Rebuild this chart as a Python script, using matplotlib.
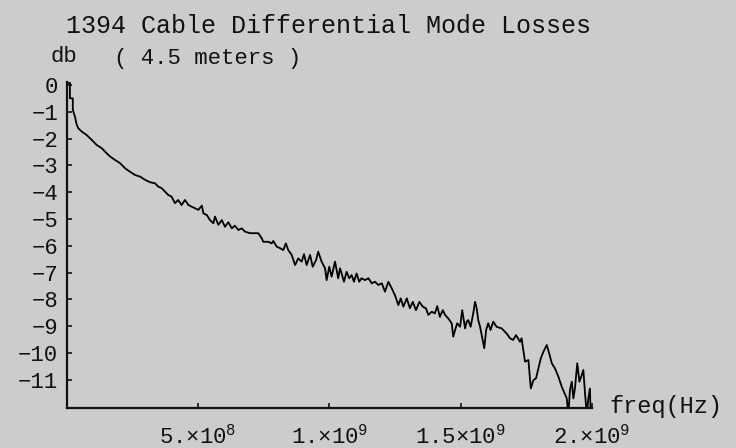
import matplotlib.pyplot as plt
import numpy as np

# Differential mode loss of a 4.5 m 1394 cable
freq_ghz = [
    0.000, 0.000, 0.013, 0.013, 0.024, 0.024, 0.032, 0.039, 0.045, 0.058,
    0.077, 0.096, 0.115, 0.134, 0.153, 0.166, 0.185, 0.204, 0.223, 0.242,
    0.261, 0.280, 0.299, 0.318, 0.337, 0.349, 0.362, 0.375, 0.387, 0.400,
    0.413, 0.425, 0.438, 0.451, 0.464, 0.476, 0.489, 0.502, 0.515, 0.521,
    0.534, 0.546, 0.559, 0.565, 0.578, 0.591, 0.603, 0.616, 0.629, 0.641,
    0.654, 0.667, 0.679, 0.698, 0.717, 0.730, 0.743, 0.749, 0.768, 0.781,
    0.787, 0.800, 0.813, 0.825, 0.835, 0.844, 0.857, 0.870, 0.882, 0.895,
    0.904, 0.914, 0.927, 0.937, 0.950, 0.958, 0.971, 0.984, 0.990, 1.000,
    1.009, 1.022, 1.034, 1.041, 1.047, 1.056, 1.066, 1.076, 1.085, 1.094,
    1.104, 1.114, 1.123, 1.136, 1.149, 1.162, 1.174, 1.187, 1.200, 1.212,
    1.225, 1.238, 1.250, 1.263, 1.272, 1.282, 1.295, 1.307, 1.318, 1.330,
    1.343, 1.356, 1.368, 1.377, 1.390, 1.402, 1.411, 1.421, 1.432, 1.441,
    1.453, 1.466, 1.472, 1.479, 1.487, 1.498, 1.506, 1.517, 1.523, 1.529,
    1.538, 1.548, 1.555, 1.561, 1.567, 1.574, 1.584, 1.590, 1.597, 1.605,
    1.614, 1.624, 1.637, 1.656, 1.675, 1.688, 1.700, 1.711, 1.726, 1.732,
    1.745, 1.758, 1.767, 1.777, 1.787, 1.796, 1.805, 1.815, 1.828, 1.837,
    1.847, 1.859, 1.872, 1.885, 1.893, 1.904, 1.910, 1.916, 1.923, 1.929,
    1.935, 1.944, 1.952, 1.961, 1.967, 1.973, 1.980, 1.986, 1.992, 1.995,
]
loss_db = [
    -0.93, 0.08, 0.08, -0.50, -0.50, -0.93, -1.18, -1.49, -1.62, -1.74,
    -1.87, -2.05, -2.24, -2.36, -2.55, -2.67, -2.80, -2.92, -3.11, -3.24,
    -3.36, -3.42, -3.54, -3.63, -3.67, -3.79, -3.85, -3.98, -4.10, -4.17,
    -4.41, -4.29, -4.48, -4.29, -4.48, -4.54, -4.60, -4.66, -4.50, -4.79,
    -4.85, -5.04, -5.16, -4.91, -5.22, -5.04, -5.29, -5.12, -5.35, -5.25,
    -5.41, -5.35, -5.47, -5.53, -5.53, -5.53, -5.72, -5.85, -5.85, -5.91,
    -5.82, -6.03, -6.09, -6.16, -5.91, -6.16, -6.34, -6.72, -6.47, -6.59,
    -6.31, -6.72, -6.34, -6.78, -6.53, -6.22, -6.59, -6.84, -7.28, -6.78,
    -7.15, -6.59, -7.21, -6.84, -7.03, -7.34, -6.97, -7.21, -7.09, -7.34,
    -7.03, -7.34, -7.21, -7.28, -7.21, -7.40, -7.34, -7.46, -7.40, -7.71,
    -7.34, -7.59, -7.84, -8.21, -7.96, -8.27, -7.96, -8.33, -8.09, -8.40,
    -8.09, -8.27, -8.33, -8.58, -8.46, -8.52, -8.25, -8.65, -8.40, -8.58,
    -8.71, -8.89, -9.39, -9.14, -8.89, -9.02, -8.40, -9.08, -8.83, -8.77,
    -9.02, -8.52, -8.09, -8.33, -8.77, -9.02, -9.51, -9.82, -9.14, -8.89,
    -9.14, -8.83, -9.02, -9.08, -9.27, -9.45, -9.51, -9.33, -9.58, -9.45,
    -10.32, -10.26, -11.32, -11.01, -10.94, -10.57, -10.20, -9.95, -9.70, -10.01,
    -10.38, -10.57, -10.88, -11.26, -11.44, -11.69, -12.30, -11.38, -11.07, -11.69,
    -11.32, -10.38, -11.07, -10.82, -10.63, -11.44, -12.30, -11.69, -11.32, -12.30,
]

ytick_vals = list(range(0, -12, -1))
ytick_labels = ['0'] + ['\u2212%d' % (-v) for v in ytick_vals[1:]]
xtick_vals = [5e8, 1e9, 1.5e9, 2e9]
xtick_labels = ['5.\u00d710$^{8}$', '1.\u00d710$^{9}$', '1.5\u00d710$^{9}$', '2.\u00d710$^{9}$']

bg = '#cccccc'
mono = 'Liberation Mono'
plt.rcParams['font.family'] = [mono, 'DejaVu Sans Mono']
plt.rcParams['mathtext.fontset'] = 'custom'
plt.rcParams['mathtext.rm'] = mono
plt.rcParams['mathtext.it'] = mono

W, H = 736, 448
fig = plt.figure(figsize=(W / 100, H / 100), dpi=100, facecolor=bg)
ax = fig.add_axes([66.5 / W, 1 - 408.3 / H, (592 - 66.5) / W, (408.3 - 82.5) / H])
ax.set_facecolor(bg)

freq_hz = np.array(freq_ghz) * 1e9
ax.plot(freq_hz, loss_db, color='black', lw=1.3)

ax.set_xlim(0, 2.0e9)
ax.set_ylim(-12.06, 0.09)
for side in ['top', 'right']:
    ax.spines[side].set_visible(False)
for side in ['left', 'bottom']:
    ax.spines[side].set_linewidth(1.6)
    ax.spines[side].set_color('#111111')

ax.set_yticks(ytick_vals)
ax.set_yticklabels(ytick_labels)
ax.set_xticks(xtick_vals)
ax.set_xticklabels(xtick_labels)
ax.tick_params(axis='both', direction='in', length=3.5, width=1.2,
               labelsize=16, colors='#111111')
ax.tick_params(axis='y', pad=6)
ax.tick_params(axis='x', pad=12)

def px_text(x, y, s, size):
    fig.text(x / W, 1 - y / H, s, fontsize=size, ha='left', va='baseline',
             color='#111111')

px_text(66, 33, '1394 Cable Differential Mode Losses', 18)
px_text(114, 64, '( 4.5 meters )', 16)
px_text(51, 62, 'db', 16)
px_text(609, 413, 'freq(Hz)', 17)

fig.savefig('out.png', dpi=100, facecolor=bg)
